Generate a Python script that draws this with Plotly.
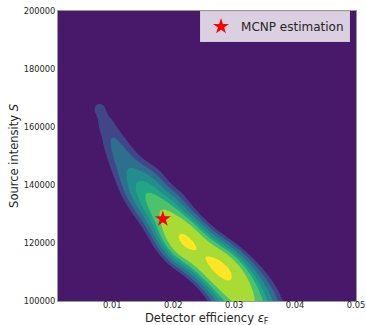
import numpy as np
import plotly.graph_objects as go

# --- KDE-like density components along the posterior ridge ---
comp_eff = [0.00787, 0.00902, 0.01016, 0.01115, 0.01230, 0.01345, 0.01476, 0.01624, 0.01772,
            0.01919, 0.02067, 0.02231, 0.02428, 0.02625, 0.02806, 0.02970, 0.03118, 0.03249, 0.03364,
            0.01624, 0.01985]
comp_src = [166550, 160690, 155520, 151030, 146900, 142760, 138620, 135170, 131720,
            127930, 123790, 120000, 116900, 113790, 110690, 106900, 102760, 98620, 94480,
            141720, 133100]
comp_amp = [0.065, 0.070, 0.075, 0.078, 0.086, 0.115, 0.180, 0.255, 0.320,
            0.460, 0.900, 1.150, 0.760, 0.980, 1.080, 0.850, 0.500, 0.350, 0.270,
            0.060, 0.060]
comp_bw_eff = [0.00131, 0.00140, 0.00148, 0.00164, 0.00181, 0.00181, 0.00181, 0.00181, 0.00181,
               0.00181, 0.00181, 0.00181, 0.00181, 0.00181, 0.00181, 0.00197, 0.00220, 0.00240, 0.00240,
               0.00200, 0.00200]
comp_bw_src = [2760, 2930, 3100, 3450, 3790, 3790, 3790, 3790, 3790,
               3790, 3790, 3790, 3790, 3790, 3790, 4140, 4600, 5000, 5000,
               4100, 4100]

levels = [0.03, 0.056, 0.10, 0.165, 0.24, 0.375, 0.86]
colors = ['#48186a', '#3f4788', '#2e6e8e', '#228d8d', '#21a585', '#4cc26c', '#a8db34', '#fde725']

mcnp_eff = [0.0183]
mcnp_src = [128300]

x_ticks = [0.01, 0.02, 0.03, 0.04, 0.05]
y_ticks = [100000, 120000, 140000, 160000, 180000, 200000]

# --- density grid ---
xg = np.linspace(0.0011, 0.05, 300)
yg = np.linspace(100000, 200000, 300)
X, Y = np.meshgrid(xg, yg)
Z = np.zeros_like(X)
for cx, cy, a, sx, sy in zip(comp_eff, comp_src, comp_amp, comp_bw_eff, comp_bw_src):
    Z += a * np.exp(-0.5 * (((X - cx) / sx) ** 2 + ((Y - cy) / sy) ** 2))
Z = Z / Z.max()
Zi = np.interp(Z, [0.0] + levels + [1.0], list(range(0, len(levels) + 2)))

n = len(colors)
cscale = [[i / (n - 1), c] for i, c in enumerate(colors)]

fig = go.Figure()
fig.add_trace(go.Contour(
    x=xg, y=yg, z=Zi,
    contours=dict(start=1, end=len(levels), size=1, coloring='fill', showlines=False),
    line=dict(width=0),
    colorscale=cscale, showscale=False, hoverinfo='skip', showlegend=False,
))
fig.add_trace(go.Scatter(
    x=mcnp_eff, y=mcnp_src, mode='markers', name='MCNP estimation',
    marker=dict(symbol='star', size=12, color='red', line=dict(width=0)),
))

fig.update_layout(
    width=366, height=325,
    margin=dict(l=58, r=10, t=11, b=24),
    paper_bgcolor='white', plot_bgcolor=colors[0],
    font=dict(family='DejaVu Sans', color='#262626'),
    showlegend=True,
    legend=dict(x=0.98, y=1.0, xanchor='right', yanchor='top',
                bgcolor='rgba(255,255,255,0.8)', bordercolor='#cccccc', borderwidth=1,
                font=dict(size=12, color='#262626'), itemwidth=30),
    annotations=[
        dict(text='Detector efficiency <i>ε</i><sub>F</sub>', xref='paper', yref='paper',
             x=0.5, y=-0.059, xanchor='center', yanchor='middle', showarrow=False,
             font=dict(size=11.5, color='#262626')),
        dict(text='Source intensity <i>S</i>', xref='paper', yref='paper',
             x=-0.148, y=0.5, xanchor='center', yanchor='middle', showarrow=False, textangle=-90,
             font=dict(size=11.5, color='#262626')),
    ],
)
fig.update_xaxes(range=[0.0011, 0.05], tickvals=x_ticks, ticktext=[f'{v:.2f}' for v in x_ticks],
                 showgrid=False, zeroline=False, showline=True, mirror=True, linecolor='#999999',
                 ticks='', tickfont=dict(size=8.3), automargin=False, ticklabelstandoff=-4)
fig.update_yaxes(range=[100000, 200000], tickvals=y_ticks, ticktext=[str(v) for v in y_ticks],
                 showgrid=False, zeroline=False, showline=True, mirror=True, linecolor='#999999',
                 ticks='', tickfont=dict(size=8.3), automargin=False)

fig.write_html('out.html', config={'displayModeBar': False},
               post_script="document.body.style.margin='0px';")
